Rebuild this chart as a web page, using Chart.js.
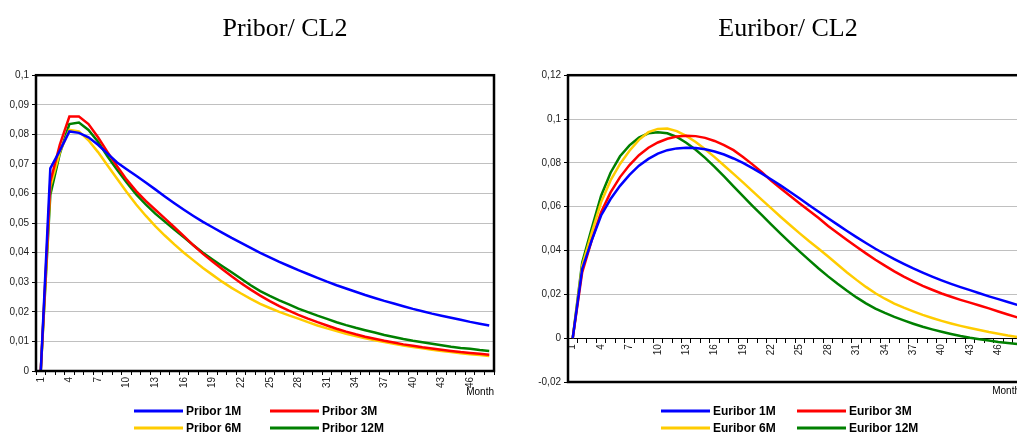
<!DOCTYPE html>
<html>
<head>
<meta charset="utf-8">
<script src="https://cdn.jsdelivr.net/npm/chart.js@4/dist/chart.umd.min.js"></script>
<style>
  html, body { margin: 0; padding: 0; background: #fff; }
  body { width: 1017px; height: 433px; overflow: hidden; position: relative; }
  #pribor { position: absolute; left: 0; top: 0; }
  #euribor { position: absolute; left: 510px; top: 0; }
</style>
</head>
<body>
<canvas id="pribor" width="570" height="433"></canvas>
<canvas id="euribor" width="556" height="433"></canvas>
<script>
const months = ['1','2','3','4','5','6','7','8','9','10','11','12','13','14','15','16',
  '17','18','19','20','21','22','23','24','25','26','27','28','29','30','31','32',
  '33','34','35','36','37','38','39','40','41','42','43','44','45','46','47','48'];
const monthTicks = ['1','4','7','10','13','16','19','22','25','28','31','34','37','40','43','46'];

const priborYTicks = ['0','0,01','0,02','0,03','0,04','0,05','0,06','0,07','0,08','0,09','0,1'];
const euriborYTicks = ['-0,02','0','0,02','0,04','0,06','0,08','0,1','0,12'];

const pribor1M = [0, 0.0685, 0.0745, 0.0810, 0.0805, 0.0790, 0.0765, 0.0735, 0.0705, 0.0682, 0.0660, 0.0637,
  0.0614, 0.0590, 0.0567, 0.0545, 0.0524, 0.0504, 0.0486, 0.0468, 0.0450, 0.0433, 0.0416, 0.0399,
  0.0384, 0.0369, 0.0355, 0.0341, 0.0328, 0.0315, 0.0302, 0.0290, 0.0279, 0.0268, 0.0257, 0.0247,
  0.0237, 0.0228, 0.0219, 0.0210, 0.0202, 0.0194, 0.0187, 0.0180, 0.0173, 0.0166, 0.0160, 0.0154];
const pribor3M = [0, 0.0640, 0.0765, 0.0860, 0.0860, 0.0835, 0.0790, 0.0740, 0.0692, 0.0647, 0.0608, 0.0575,
  0.0545, 0.0516, 0.0486, 0.0456, 0.0425, 0.0396, 0.0370, 0.0345, 0.0320, 0.0297, 0.0275, 0.0255,
  0.0236, 0.0219, 0.0204, 0.0190, 0.0177, 0.0165, 0.0154, 0.0143, 0.0133, 0.0124, 0.0116, 0.0109,
  0.0102, 0.0096, 0.0090, 0.0085, 0.0080, 0.0076, 0.0072, 0.0068, 0.0064, 0.0061, 0.0058, 0.0055];
const pribor6M = [0, 0.0622, 0.0740, 0.0815, 0.0810, 0.0780, 0.0740, 0.0695, 0.0650, 0.0605, 0.0563, 0.0525,
  0.0490, 0.0458, 0.0428, 0.0400, 0.0374, 0.0348, 0.0325, 0.0302, 0.0281, 0.0262, 0.0244, 0.0227,
  0.0213, 0.0200, 0.0188, 0.0177, 0.0165, 0.0154, 0.0144, 0.0135, 0.0126, 0.0118, 0.0111, 0.0104,
  0.0098, 0.0092, 0.0086, 0.0081, 0.0077, 0.0072, 0.0068, 0.0064, 0.0060, 0.0057, 0.0054, 0.0051];
const pribor12M = [0, 0.0595, 0.0735, 0.0835, 0.0840, 0.0815, 0.0775, 0.0725, 0.0680, 0.0637, 0.0597, 0.0563,
  0.0532, 0.0505, 0.0478, 0.0452, 0.0425, 0.0400, 0.0377, 0.0355, 0.0334, 0.0312, 0.0290, 0.0270,
  0.0254, 0.0239, 0.0225, 0.0211, 0.0199, 0.0187, 0.0176, 0.0165, 0.0155, 0.0146, 0.0138, 0.0130,
  0.0122, 0.0115, 0.0108, 0.0102, 0.0097, 0.0092, 0.0087, 0.0082, 0.0078, 0.0075, 0.0071, 0.0068];

const euribor1M = [0, 0.0316, 0.0445, 0.0560, 0.0635, 0.0695, 0.0745, 0.0787, 0.0818, 0.0842, 0.0858, 0.0866,
  0.0869, 0.0868, 0.0862, 0.0852, 0.0838, 0.0820, 0.0800, 0.0776, 0.0751, 0.0724, 0.0696, 0.0667,
  0.0637, 0.0607, 0.0577, 0.0547, 0.0518, 0.0489, 0.0461, 0.0434, 0.0408, 0.0384, 0.0361, 0.0339,
  0.0318, 0.0299, 0.0281, 0.0264, 0.0248, 0.0233, 0.0219, 0.0205, 0.0191, 0.0178, 0.0165, 0.0152];
const euribor3M = [0, 0.0300, 0.0445, 0.0575, 0.0665, 0.0735, 0.0790, 0.0835, 0.0869, 0.0893, 0.0910, 0.0920,
  0.0924, 0.0922, 0.0914, 0.0900, 0.0881, 0.0858, 0.0827, 0.0793, 0.0757, 0.0718, 0.0683, 0.0649,
  0.0615, 0.0581, 0.0548, 0.0512, 0.0480, 0.0448, 0.0417, 0.0387, 0.0358, 0.0331, 0.0305, 0.0281,
  0.0259, 0.0239, 0.0221, 0.0204, 0.0189, 0.0175, 0.0162, 0.0149, 0.0136, 0.0122, 0.0108, 0.0095];
const euribor6M = [0, 0.0330, 0.0480, 0.0620, 0.0720, 0.0795, 0.0855, 0.0905, 0.0940, 0.0955, 0.0957, 0.0945,
  0.0923, 0.0895, 0.0862, 0.0826, 0.0788, 0.0750, 0.0711, 0.0671, 0.0631, 0.0592, 0.0553, 0.0515,
  0.0478, 0.0442, 0.0408, 0.0373, 0.0336, 0.0300, 0.0266, 0.0234, 0.0205, 0.0180, 0.0158, 0.0139,
  0.0122, 0.0106, 0.0092, 0.0079, 0.0067, 0.0056, 0.0046, 0.0037, 0.0028, 0.0020, 0.0012, 0.0005];
const euribor12M = [0, 0.0345, 0.0500, 0.0650, 0.0755, 0.0830, 0.0880, 0.0915, 0.0935, 0.0940, 0.0935, 0.0918,
  0.0892, 0.0860, 0.0823, 0.0782, 0.0738, 0.0693, 0.0648, 0.0604, 0.0561, 0.0518, 0.0476, 0.0435,
  0.0395, 0.0356, 0.0318, 0.0282, 0.0248, 0.0216, 0.0186, 0.0159, 0.0135, 0.0115, 0.0097, 0.0081,
  0.0066, 0.0052, 0.0040, 0.0029, 0.0019, 0.0010, 0.0002, -0.0005, -0.0011, -0.0017, -0.0022, -0.0027];

const colors = ['#0000ff', '#ff0000', '#ffcc00', '#008000'];

Chart.defaults.font.family = "'Liberation Sans', Arial, sans-serif";
Chart.defaults.color = '#000';

// black box around the plot area, like the spreadsheet chart
const plotFrame = {
  id: 'plotFrame',
  afterDatasetsDraw(chart) {
    const a = chart.chartArea, ctx = chart.ctx;
    ctx.save();
    ctx.strokeStyle = '#000';
    ctx.lineWidth = 2.5;
    ctx.strokeRect(a.left, a.top, a.right - a.left, a.bottom - a.top);
    ctx.restore();
  }
};

// two-column legend under the chart
const seriesKey = {
  id: 'seriesKey',
  afterDraw(chart, args, opts) {
    const ctx = chart.ctx;
    ctx.save();
    ctx.font = 'bold 12px ' + Chart.defaults.font.family;
    ctx.textBaseline = 'middle';
    ctx.textAlign = 'left';
    chart.data.datasets.forEach((ds, i) => {
      const x = opts.cols[i % 2], y = opts.rows[Math.floor(i / 2)];
      ctx.strokeStyle = ds.borderColor;
      ctx.lineWidth = 3;
      ctx.beginPath();
      ctx.moveTo(x, y);
      ctx.lineTo(x + 49, y);
      ctx.stroke();
      ctx.fillStyle = '#000';
      ctx.fillText(ds.label, x + 52, y + 1);
    });
    ctx.restore();
  }
};

const axisNote = {
  id: 'axisNote',
  afterDraw(chart, args, opts) {
    const ctx = chart.ctx, a = chart.chartArea;
    ctx.save();
    ctx.font = '10px ' + Chart.defaults.font.family;
    ctx.fillStyle = '#000';
    ctx.textAlign = 'right';
    ctx.textBaseline = 'middle';
    ctx.fillText(opts.text, a.right + opts.dx, a.bottom + opts.dy);
    ctx.restore();
  }
};

function makeSets(names, series) {
  return series.map((s, i) => ({
    label: names[i],
    data: s,
    borderColor: colors[i],
    backgroundColor: colors[i],
    borderWidth: 2.5,
    pointRadius: 0,
    tension: 0,
    fill: false
  }));
}

function xScale(extra) {
  return Object.assign({
    type: 'category',
    offset: true,
    grid: { display: true, drawOnChartArea: false, offset: true, tickLength: 4, tickColor: '#000' },
    border: { display: true, color: '#000', width: 1 },
    ticks: {
      autoSkip: false, minRotation: 90, maxRotation: 90, padding: 2,
      font: { size: 10 }, color: '#222',
      callback: function (v, i) {
        const lab = months[i];
        return monthTicks.includes(lab) ? lab : '';
      }
    }
  }, extra);
}

function yScale(min, max, step, labels, width) {
  return {
    min: min, max: max,
    ticks: {
      stepSize: step, padding: 3, font: { size: 10 }, color: '#222',
      callback: (v, i) => labels[i]
    },
    grid: { color: '#c0c0c0', lineWidth: 1, tickLength: 4, tickColor: '#000' },
    border: { display: false },
    afterFit: function (s) { s.width = width; }
  };
}

// empty right-hand axis, only keeps room so the title centres over the whole canvas
function spacer(width) {
  return {
    position: 'right',
    grid: { display: false, drawTicks: false },
    border: { display: false },
    ticks: { display: false },
    afterFit: function (s) { s.width = width; }
  };
}

const titleFont = { family: "'Liberation Serif', 'Times New Roman', serif", size: 26, weight: 'normal' };

new Chart(document.getElementById('pribor'), {
  type: 'line',
  data: {
    labels: months,
    datasets: makeSets(['Pribor 1M', 'Pribor 3M', 'Pribor 6M', 'Pribor 12M'],
      [pribor1M, pribor3M, pribor6M, pribor12M])
  },
  options: {
    responsive: false,
    animation: false,
    layout: { padding: 0 },
    scales: {
      x: xScale({ afterFit: function (s) { s.height = 62; } }),
      y: yScale(0, 0.1, 0.01, priborYTicks, 36),
      pad: spacer(76)
    },
    plugins: {
      legend: { display: false },
      tooltip: { enabled: false },
      title: {
        display: true, text: 'Pribor/ CL2', color: '#000', font: titleFont,
        padding: { top: 14, bottom: 30 }
      },
      seriesKey: { cols: [134, 270], rows: [411, 428] },
      axisNote: { text: 'Month', dx: 0, dy: 21 }
    }
  },
  plugins: [plotFrame, seriesKey, axisNote]
});

new Chart(document.getElementById('euribor'), {
  type: 'line',
  data: {
    labels: months,
    datasets: makeSets(['Euribor 1M', 'Euribor 3M', 'Euribor 6M', 'Euribor 12M'],
      [euribor1M, euribor3M, euribor6M, euribor12M])
  },
  options: {
    responsive: false,
    animation: false,
    layout: { padding: { left: 0, right: 0, top: 0, bottom: 51 } },
    scales: {
      x: xScale({ position: { y: 0 } }),
      y: yScale(-0.02, 0.12, 0.02, euriborYTicks, 58),
      pad: spacer(44)
    },
    plugins: {
      legend: { display: false },
      tooltip: { enabled: false },
      title: {
        display: true, text: 'Euribor/ CL2', color: '#000', font: titleFont,
        padding: { top: 14, bottom: 30 }
      },
      seriesKey: { cols: [151, 287], rows: [411, 428] },
      axisNote: { text: 'Month', dx: -2, dy: 9 }
    }
  },
  plugins: [plotFrame, seriesKey, axisNote]
});
</script>
</body>
</html>
